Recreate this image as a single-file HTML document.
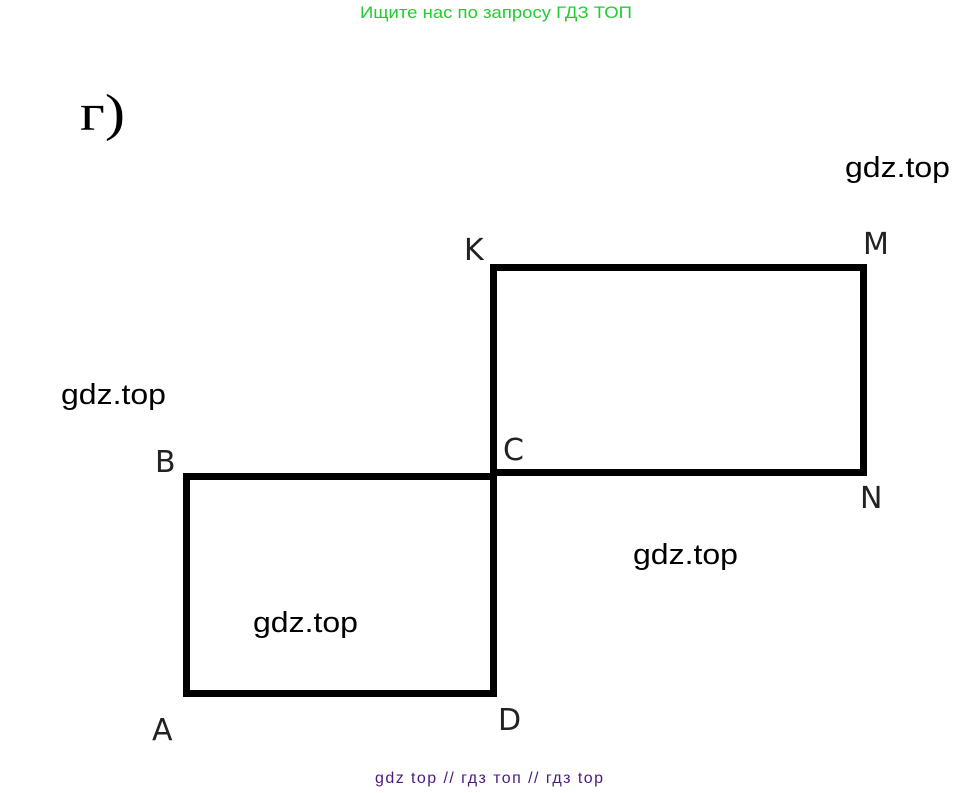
<!DOCTYPE html>
<html><head><meta charset="utf-8"><style>
html,body{margin:0;padding:0;background:#fff;width:979px;height:793px;overflow:hidden}
</style></head><body>
<svg width="979" height="793" xmlns="http://www.w3.org/2000/svg" style="position:absolute;left:0;top:0">
<text x="360" y="18" textLength="272" lengthAdjust="spacingAndGlyphs" font-family="Liberation Sans, sans-serif" font-size="17" fill="#22cc33">Ищите нас по запросу ГДЗ ТОП</text>
<text x="80" y="130" textLength="45" lengthAdjust="spacingAndGlyphs" font-family="Liberation Serif, serif" font-size="52" fill="#000">г)</text>
<g font-family="Liberation Sans, sans-serif" font-size="29" fill="#000">
<text x="845" y="177" textLength="105" lengthAdjust="spacingAndGlyphs">gdz.top</text>
<text x="61" y="404" textLength="105" lengthAdjust="spacingAndGlyphs">gdz.top</text>
<text x="633" y="564" textLength="105" lengthAdjust="spacingAndGlyphs">gdz.top</text>
<text x="253" y="632" textLength="105" lengthAdjust="spacingAndGlyphs">gdz.top</text>
</g>
<g fill="none" stroke="#000" stroke-width="7">
<rect x="186.5" y="476.5" width="307" height="217"/>
<rect x="493.5" y="267.5" width="370" height="205"/>
</g>
<g font-family="DejaVu Sans, sans-serif" font-size="30" fill="#222">
<text x="464" y="260">K</text>
<text x="863" y="254">M</text>
<text x="155" y="472">B</text>
<text x="503" y="460">C</text>
<text x="860" y="508">N</text>
<text x="152" y="740">A</text>
<text x="498" y="730">D</text>
</g>
<text x="375" y="783" textLength="228" lengthAdjust="spacing" font-family="Liberation Sans, sans-serif" font-size="16" fill="#4a1a80">gdz top  //  гдз топ  //  гдз top</text>
</svg>
</body></html>
